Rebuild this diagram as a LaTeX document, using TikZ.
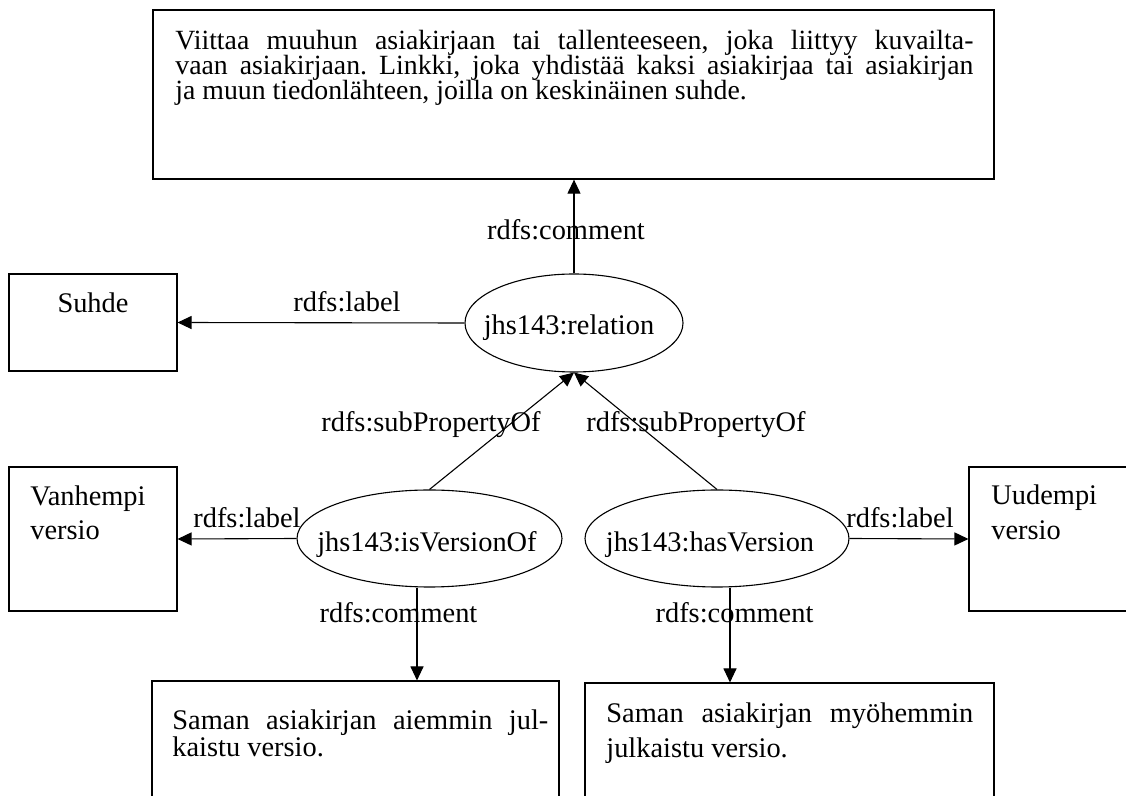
\documentclass[tikz,border=0pt]{standalone}
\usepackage{fontspec}
\setmainfont{Liberation Serif}
\usetikzlibrary{arrows.meta,shapes.geometric,calc}

% font size and line pitch for the set texts
\newcommand\textsizepitch[2]{\fontsize{#1}{#2}\selectfont\lineskiplimit=-50pt\lineskip=0pt\frenchspacing}
\newcommand\textlines[1]{\textsizepitch{14.2pt}{#1}}
% a justified line of given width
\newcommand\jline[2]{\makebox[#1][s]{#2}}

\tikzset{
  box/.style={draw, line width=0.55pt, rectangle, inner sep=0pt},
  prop/.style={draw, line width=0.55pt, ellipse, inner sep=0pt},
  txt/.style={inner sep=0pt, font=\textlines{12.5pt}},
  lines/.style={txt, anchor=base west, align=left, font=\textlines{#1}},
  lbl/.style={txt, anchor=base},
  arr/.style={line width=0.55pt, -{Triangle[length=7pt,width=6.5pt]}},
}

\begin{document}
\begin{tikzpicture}[x=0.5pt,y=-0.5pt]
  \useasboundingbox (0,0) rectangle (1126,796);
  \clip (0,0) rectangle (1126,796);

  % boxes holding literal values
  \node[box, line width=0.65pt, minimum width=420.5pt, minimum height=84.5pt] (topbox) at (573.5,94.5) {};
  \node[box, minimum width=84pt, minimum height=48.5pt] (suhde) at (93,322.5) {};
  \node[box, minimum width=84pt, minimum height=72pt] (vanh) at (93,539) {};
  \node[box, minimum width=83pt, minimum height=72pt] (uud) at (1052,539) {};
  \node[box, minimum width=203.5pt, minimum height=74.5pt] (lbox) at (355.5,755.5) {};
  \node[box, minimum width=204.5pt, minimum height=73.5pt] (rbox) at (789.5,756.5) {};

  % property ellipses
  \node[prop, minimum width=109pt, minimum height=49pt] (rel) at (574,323) {};
  \node[prop, minimum width=132.5pt, minimum height=48.5pt] (isv) at (429.5,538.5) {};
  \node[prop, minimum width=132pt, minimum height=48.5pt] (hasv) at (717,538.5) {};

  % texts inside the shapes (anchored at the baseline of their last line)
  \node[txt, anchor=base west, align=left, font=\textsizepitch{13.9pt}{12.5pt}] (toptxt) at (175,100)
    {\jline{399pt}{Viittaa muuhun asiakirjaan tai tallenteeseen, joka liittyy kuvailta-}\\
     \jline{399pt}{vaan asiakirjaan. Linkki, joka yhdistää kaksi asiakirjaa tai asiakirjan}\\
     ja muun tiedonlähteen, joilla on keskinäinen suhde.};
  \node[lbl] (suhdetxt) at (93,313) {Suhde};
  \node[lines=17pt] (vanhtxt) at (30,540) {Vanhempi\\versio};
  \node[lines=17.5pt] (uudtxt) at (991,540) {Uudempi\\versio};
  \node[lines=13.5pt] (ltxt) at (172,757)
    {\jline{188pt}{Saman asiakirjan aiemmin jul-}\\kaistu versio.};
  \node[lines=17.5pt] (rtxt) at (606,758)
    {\jline{183.5pt}{Saman asiakirjan myöhemmin}\\julkaistu versio.};
  \node[lbl] (reltxt) at (569,335) {jhs143:relation};
  \node[lbl] (isvtxt) at (427,552) {jhs143:isVersionOf};
  \node[lbl] (hasvtxt) at (710,552) {jhs143:hasVersion};

  % connectors
  \draw[arr] (rel.north) -- (rel.north |- topbox.south);
  \draw[arr] (rel.west) -- (suhde.east);
  \draw[arr] (isv.north) -- (rel.south);
  \draw[arr] (hasv.north) -- (rel.south);
  \draw[arr] (isv.west) -- (vanh.east);
  \draw[arr] (hasv.east) -- (uud.west);
  \coordinate (isvfoot) at ($(isv.south)+(-12.5,0)$);
  \coordinate (hasvfoot) at ($(hasv.south)+(13,0)$);
  \draw[arr] (isvfoot) -- (isvfoot |- lbox.north);
  \draw[arr] (hasvfoot) -- (hasvfoot |- rbox.north);

  % connector labels
  \node[lbl] (c1) at (566,240) {rdfs:comment};
  \node[lbl] (l1) at (347,312) {rdfs:label};
  \node[lbl] (s1) at (431,432) {rdfs:subPropertyOf};
  \node[lbl] (s2) at (696,432) {rdfs:subPropertyOf};
  \node[lbl] (c2) at (398.5,623) {rdfs:comment};
  \node[lbl] (c3) at (734.5,623) {rdfs:comment};
  \node[lbl] (l2) at (247,528) {rdfs:label};
  \node[lbl] (l3) at (900,528) {rdfs:label};
\end{tikzpicture}
\end{document}
